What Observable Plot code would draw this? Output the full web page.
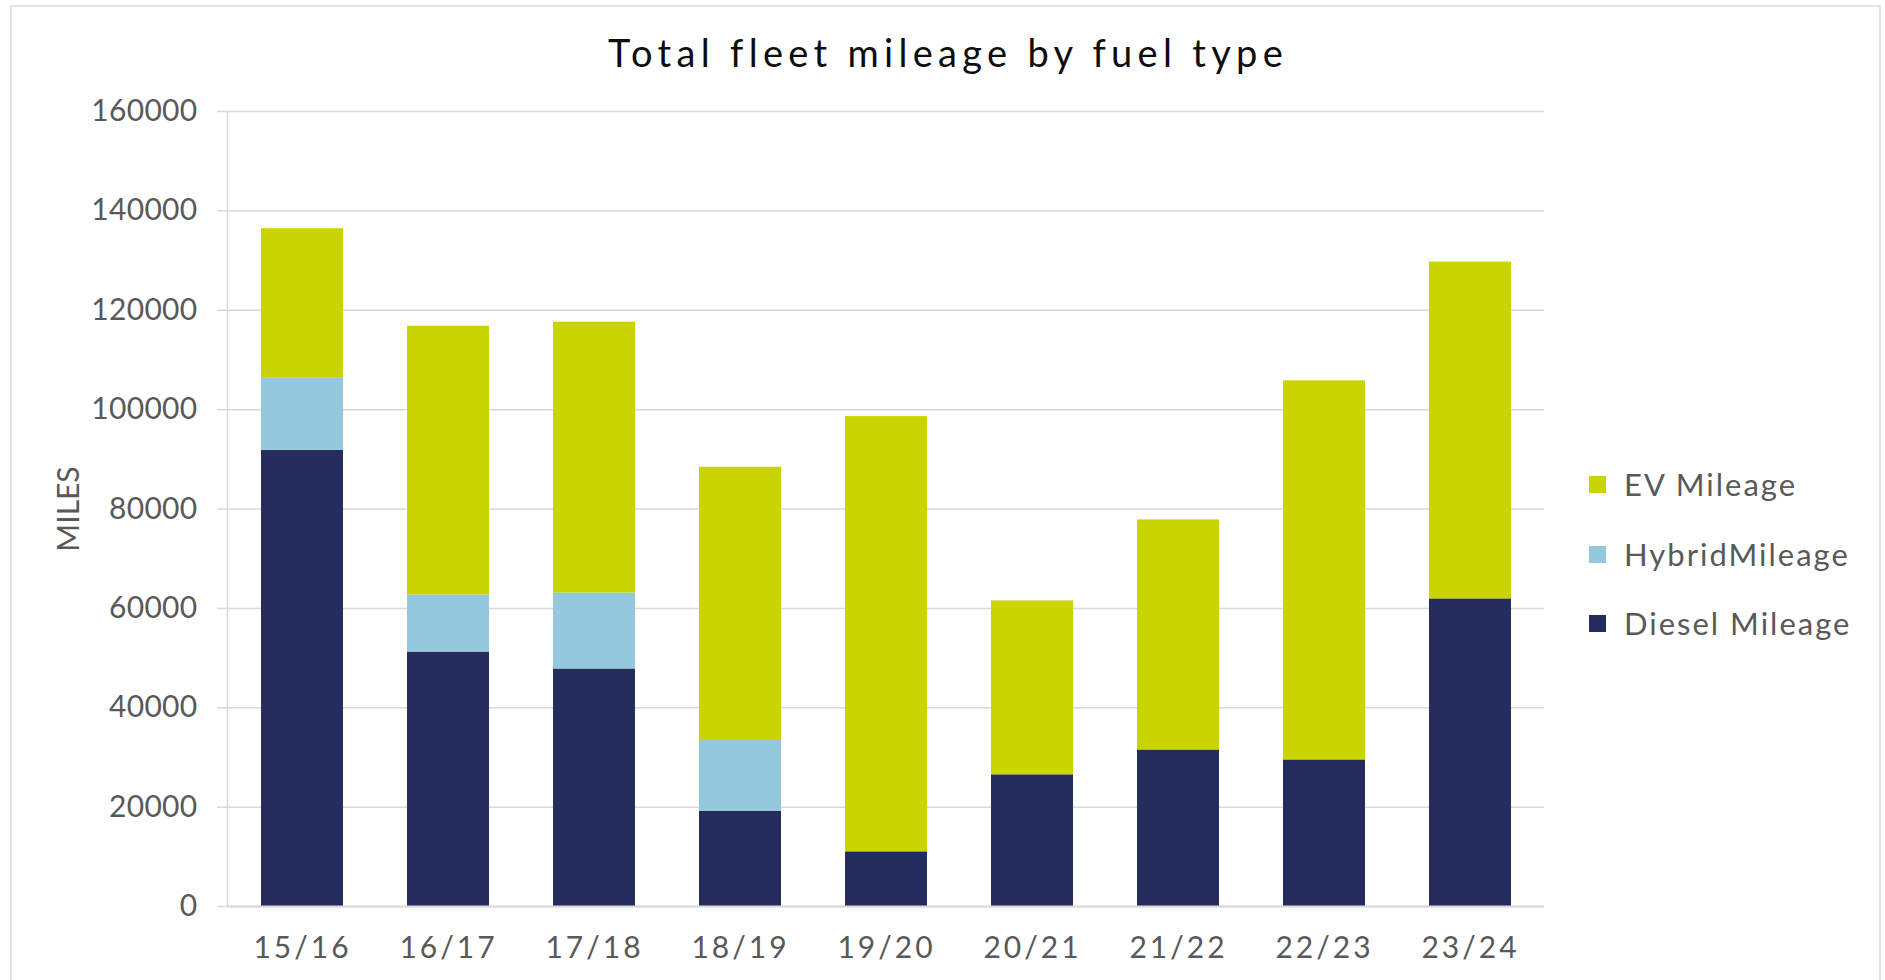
<!DOCTYPE html>
<html><head><meta charset="utf-8">
<script src="https://cdn.jsdelivr.net/npm/d3@7"></script>
<script src="https://cdn.jsdelivr.net/npm/@observablehq/plot@0.6"></script>
<style>
body{margin:0;background:#fff;font-family:Lato,"Open Sans",sans-serif;}
#wrap{position:relative;width:1885px;height:980px;overflow:hidden;background:#fff;}
#border{position:absolute;left:10px;top:5px;width:1871px;height:1000px;border:2px solid #E3E3E3;box-sizing:border-box;}
#title{position:absolute;left:0;width:1896px;top:33px;text-align:center;font-size:38px;line-height:38px;letter-spacing:5.3px;color:#0D0D0D;white-space:nowrap;}
#chart{position:absolute;left:0;top:0;}
#legend{position:absolute;left:0;top:0;}
.lg-row{position:absolute;left:1589px;height:31px;white-space:nowrap;}
.lg-sw{position:absolute;left:0;width:17px;height:17px;top:7px;}
.lg-tx{position:absolute;left:35px;top:0;font-size:31px;line-height:31px;color:#595959;letter-spacing:2px;}
svg [aria-label="x-axis tick label"] text{letter-spacing:3px;}
svg [aria-label="y-axis tick label"] text{letter-spacing:0.3px;}
</style></head>
<body>
<div id="wrap">
  <div id="border"></div>
  <div id="chart"></div>
  <div id="title">Total fleet mileage by fuel type</div>
  <div id="legend"></div>
</div>
<script>
const years = ["15/16","16/17","17/18","18/19","19/20","20/21","21/22","22/23","23/24"];
const diesel = [91800, 51200, 47800, 19200, 11000, 26500, 31500, 29500, 61900];
const hybrid = [14500, 11500, 15300, 14200, 0, 0, 0, 0, 0];
const ev = [30100, 54100, 54500, 55000, 87600, 35000, 46300, 76300, 67800];
const series = ["Diesel Mileage", "HybridMileage", "EV Mileage"];
const seriesColors = ["#242D5E", "#93C8DD", "#C9D400"];
const legendOrder = ["EV Mileage", "HybridMileage", "Diesel Mileage"];
const yTicks = [0, 20000, 40000, 60000, 80000, 100000, 120000, 140000, 160000];

const values = [diesel, hybrid, ev];
const rows = [];
years.forEach((yr, i) => {
  series.forEach((s, k) => rows.push({year: yr, fuel: s, value: values[k][i]}));
});

const chart = Plot.plot({
  width: 1885,
  height: 980,
  marginLeft: 227,
  marginRight: 341,
  marginTop: 111,
  marginBottom: 74,
  style: {fontFamily: "Lato, 'Open Sans', sans-serif", background: "transparent", color: "#595959", overflow: "visible"},
  x: {domain: years, paddingInner: 0.44, paddingOuter: 0.22, label: null},
  y: {domain: [0, 160000], ticks: yTicks, label: "MILES"},
  color: {domain: series, range: seriesColors},
  marks: [
    Plot.gridY(yTicks, {stroke: "#D9D9D9", strokeOpacity: 1, strokeWidth: 1.5}),
    Plot.barY(rows, {x: "year", y: "value", fill: "fuel"}),
    Plot.frame({anchor: "left", stroke: "#D9D9D9", strokeWidth: 1.5}),
    Plot.ruleY([0], {stroke: "#D9D9D9", strokeWidth: 2}),
    Plot.axisY(yTicks, {tickSize: 10, tickPadding: 20, fontSize: 30, stroke: "#D9D9D9", strokeWidth: 1.5, tickFormat: d => String(d),
      label: "MILES", labelAnchor: "center", labelOffset: 170, labelArrow: "none"}),
    Plot.axisX({tickSize: 0, tickPadding: 30, fontSize: 30, label: null})
  ]
});
document.getElementById("chart").appendChild(chart);

const legend = document.getElementById("legend");
const rowCenters = [484.5, 554, 623];
legendOrder.forEach((name, i) => {
  const row = document.createElement("div");
  row.className = "lg-row";
  row.style.top = (rowCenters[i] - 15.5) + "px";
  const sw = document.createElement("div");
  sw.className = "lg-sw";
  sw.style.background = seriesColors[series.indexOf(name)];
  const tx = document.createElement("div");
  tx.className = "lg-tx";
  tx.textContent = name;
  row.appendChild(sw); row.appendChild(tx);
  legend.appendChild(row);
});
</script>
</body></html>
